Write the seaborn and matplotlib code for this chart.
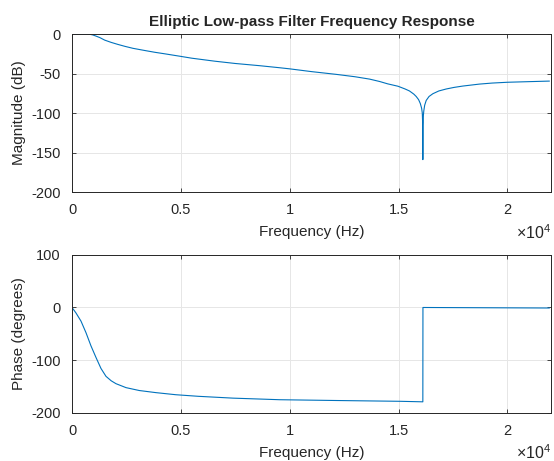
import pandas as pd
import matplotlib.pyplot as plt
import seaborn as sns

# Magnitude response (Hz, dB)
mag_freq = [0, 300, 600, 850, 950, 1100, 1284, 1500, 1800, 2100, 2430, 2800, 3350,
            3800, 4270, 4950, 5500, 6560, 7500, 8620, 9540, 10000, 11000, 12140,
            13000, 13670, 14128, 14500, 14970, 15300, 15500, 15700, 15810, 15920,
            16000, 16060, 16090, 16105, 16115, 16125, 16140, 16160, 16200, 16270,
            16400, 16575, 16850, 17190, 17550, 17950, 18715, 19300, 19990, 21000, 21930]
mag_db = [0, -0.2, 0, -0.4, -1.0, -2.5, -4.5, -7.6, -10.5, -13, -15.5, -18, -20.8,
          -23, -25, -28, -30.5, -34.3, -37.2, -40, -42.6, -44, -47.5, -51,
          -54, -57, -60, -63, -66, -69.5, -72, -76, -79, -83,
          -88, -94, -100, -112, -159, -115, -103, -97, -90, -84,
          -79, -75.5, -72, -69.5, -67.5, -65.8, -63.3, -62, -61, -60.2, -59.5]

# Phase response (Hz, degrees)
ph_freq = [0, 183, 413, 642, 870, 1100, 1330, 1560, 1800, 2020, 2480, 3090, 3850,
           4770, 5800, 7400, 9540, 12140, 15060, 16115, 16120, 19000, 21930]
ph_deg = [0, -10.5, -26, -48, -73, -95, -116, -131, -139.5, -145, -152.5, -158, -162,
          -166, -169, -172.5, -175.5, -177, -178.5, -179.5, 0, -0.5, -1]

x_ticks = [0, 5000, 10000, 15000, 20000]
x_labels = ["0", "0.5", "1", "1.5", "2"]

sns.set_theme(style="ticks")
plt.rcParams["font.family"] = ["Liberation Sans", "DejaVu Sans"]
plt.rcParams["axes.unicode_minus"] = False
plt.rcParams["mathtext.fontset"] = "custom"
plt.rcParams["mathtext.rm"] = "Liberation Sans"

line_color = "#0072BD"
edge = "#262626"

fig = plt.figure(figsize=(5.54, 4.61), dpi=100)
ax1 = fig.add_axes([0.130, 0.5835, 0.8645, 0.3425])
ax2 = fig.add_axes([0.130, 0.105, 0.8645, 0.342])

mag_df = pd.DataFrame({"f": mag_freq, "db": mag_db})
ph_df = pd.DataFrame({"f": ph_freq, "deg": ph_deg})

sns.lineplot(data=mag_df, x="f", y="db", ax=ax1, color=line_color, linewidth=0.8,
             sort=False, estimator=None)
sns.lineplot(data=ph_df, x="f", y="deg", ax=ax2, color=line_color, linewidth=0.8,
             sort=False, estimator=None)

for ax in (ax1, ax2):
    ax.set_xlim(0, 22000)
    ax.set_xticks(x_ticks)
    ax.set_xticklabels(x_labels)
    ax.set_xlabel("Frequency (Hz)", fontsize=11, color=edge, labelpad=6)
    ax.grid(True, color="#e6e6e6", linewidth=0.7)
    ax.set_axisbelow(True)
    for s in ax.spines.values():
        s.set_visible(True)
        s.set_color(edge)
        s.set_linewidth(0.7)
    ax.tick_params(direction="in", length=3, width=0.6, colors=edge,
                   labelsize=10.5, top=True, right=True, pad=8)
    ax.text(1.0, -0.255, r"$\times\mathregular{10^{4}}$", transform=ax.transAxes,
            ha="right", va="center", fontsize=11.5, color=edge)

ax1.set_ylim(-200, 0)
ax1.set_yticks([0, -50, -100, -150, -200])
ax1.set_ylabel("Magnitude (dB)", fontsize=11, color=edge)
ax1.set_title("Elliptic Low-pass Filter Frequency Response", fontsize=11,
              fontweight="bold", pad=6)

ax2.set_ylim(-200, 100)
ax2.set_yticks([100, 0, -100, -200])
ax2.set_ylabel("Phase (degrees)", fontsize=11, color=edge)

plt.savefig("out.png", dpi=100)
